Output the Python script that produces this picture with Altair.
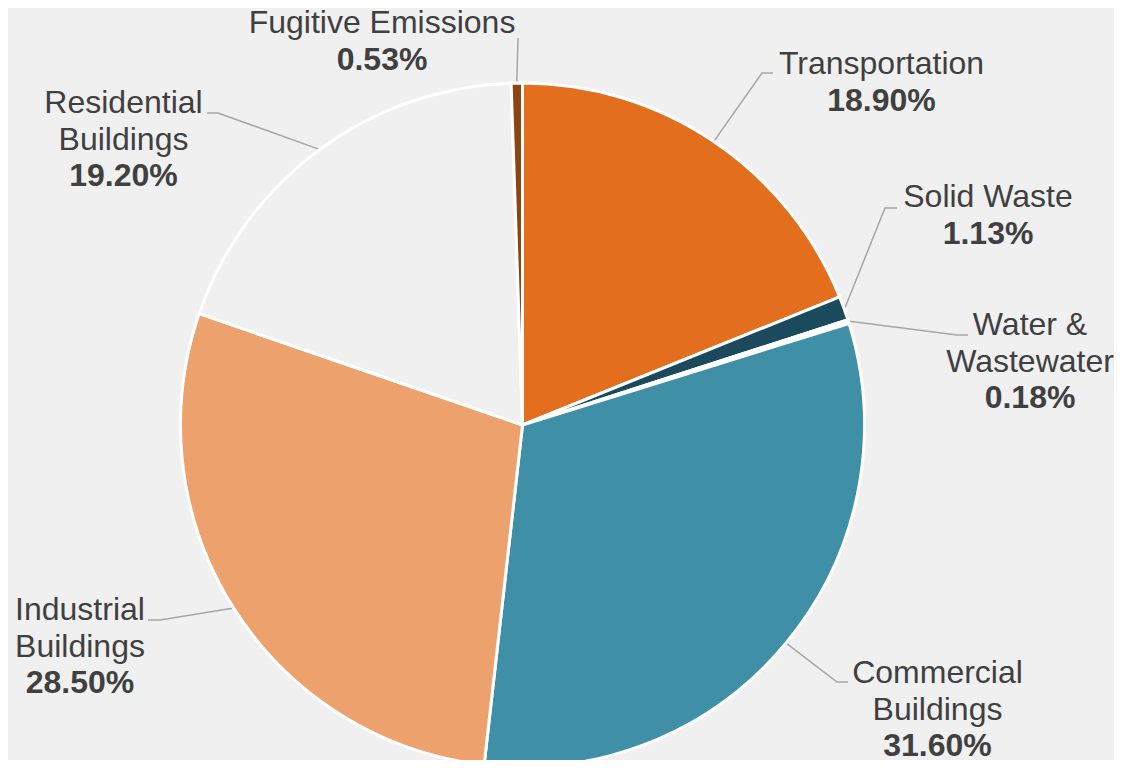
import math
import altair as alt
import pandas as pd

# ---- data ----
categories = ["Transportation", "Solid Waste", "Water & Wastewater",
              "Commercial Buildings", "Industrial Buildings",
              "Residential Buildings", "Fugitive Emissions"]
values = [18.90, 1.13, 0.18, 31.60, 28.50, 19.20, 0.53]
name_lines = [["Transportation"], ["Solid Waste"], ["Water &", "Wastewater"],
              ["Commercial", "Buildings"], ["Industrial", "Buildings"],
              ["Residential", "Buildings"], ["Fugitive Emissions"]]

# ---- styling / layout (page pixel coordinates) ----
colors = ["#E36F1E", "#1B4A5C", "#FFFFFF", "#3F8FA7", "#EDA26E", "#F0F0F0", "#8B4513"]
M = 8                       # page margin
PW, PH = 1122, 768          # page size
CW, CH = PW - 2 * M, PH - 2 * M
CX, CY, R = 522.5, 425, 342
label_x = [881.5, 988, 1030, 937.5, 80, 123.5, 382]
label_y = [74, 207, 335, 683, 620, 113, 33]
LINE = 36.5
elbow = [(762, 73), (885, 208), (957, 335), (837, 682), (160, 620), (218, 113), (518, 38)]
end = [(773, 73), (897, 208), (968, 335), (848, 682), (148, 620), (207, 113), (518, 38)]

pie_df = pd.DataFrame({"cat": categories, "val": values, "idx": range(len(values))})

# leader lines start at each slice's mid-angle on the rim
total = sum(values)
rows = []
cum = 0.0
for i, v in enumerate(values):
    mid = (cum + v / 2) / total * 2 * math.pi
    cum += v
    sx = CX + (R + 1) * math.sin(mid)
    sy = CY - (R + 1) * math.cos(mid)
    for k, (px, py) in enumerate([(sx, sy), elbow[i], end[i]]):
        rows.append({"cat": categories[i], "k": k, "x": px, "y": py})
lead_df = pd.DataFrame(rows)

name_rows, pct_rows = [], []
for i, lines in enumerate(name_lines):
    for j, t in enumerate(lines):
        name_rows.append({"x": label_x[i], "y": label_y[i] + j * LINE, "t": t})
    pct_rows.append({"x": label_x[i], "y": label_y[i] + len(lines) * LINE,
                     "t": f"{values[i]:.2f}%"})
name_df = pd.DataFrame(name_rows)
pct_df = pd.DataFrame(pct_rows)

xs = alt.Scale(domain=[M, M + CW], nice=False, zero=False)
ys = alt.Scale(domain=[M, M + CH], nice=False, zero=False, reverse=True)

pie = alt.Chart(pie_df).mark_arc(
    outerRadius=R, stroke="white", strokeWidth=3
).encode(
    theta=alt.Theta("val:Q", stack=True),
    order=alt.Order("idx:Q"),
    color=alt.Color("cat:N", scale=alt.Scale(domain=categories, range=colors), legend=None),
    x=alt.value(CX - M),
    y=alt.value(CY - M),
)

leaders = alt.Chart(lead_df).mark_line(color="#A6A6A6", strokeWidth=1.5).encode(
    x=alt.X("x:Q", scale=xs, axis=None),
    y=alt.Y("y:Q", scale=ys, axis=None),
    detail="cat:N",
    order="k:Q",
)

font = "Liberation Sans"
names = alt.Chart(name_df).mark_text(
    font=font, fontSize=32, color="#404040", align="center", baseline="alphabetic"
).encode(
    x=alt.X("x:Q", scale=xs, axis=None),
    y=alt.Y("y:Q", scale=ys, axis=None),
    text="t:N",
)

pcts = alt.Chart(pct_df).mark_text(
    font=font, fontSize=32, fontWeight="bold", color="#404040",
    align="center", baseline="alphabetic"
).encode(
    x=alt.X("x:Q", scale=xs, axis=None),
    y=alt.Y("y:Q", scale=ys, axis=None),
    text="t:N",
)

chart = alt.layer(leaders, pie, names, pcts).properties(
    width=CW, height=CH,
    autosize=alt.AutoSizeParams(type="none"),
    padding=0,
    background="#F0F0F0",
).configure_view(stroke=None)

chart.save("out.html", embed_options={"renderer": "svg", "actions": False})
